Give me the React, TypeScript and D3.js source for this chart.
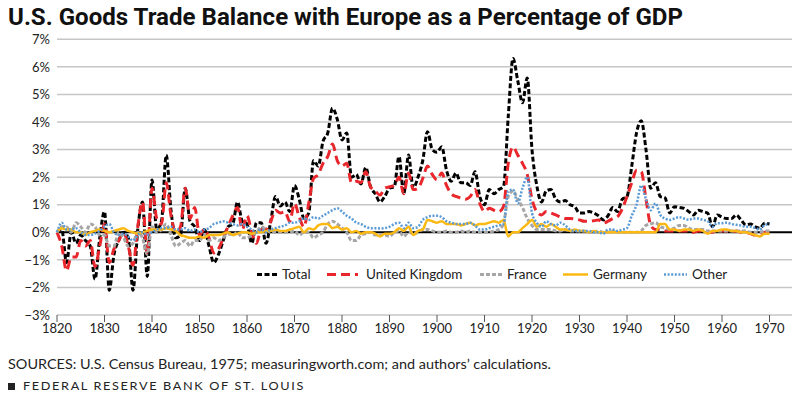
import React from 'react';
import * as d3 from 'd3';

const startYear = 1820;
const xTicks = [1820, 1830, 1840, 1850, 1860, 1870, 1880, 1890, 1900, 1910, 1920, 1930, 1940, 1950, 1960, 1970];
const yTicks = [-3, -2, -1, 0, 1, 2, 3, 4, 5, 6, 7];

const total = [
  0.0, 0.1, -1.1, 0.0, -0.4, -0.1, -0.3, -0.5, -1.7, -0.2,
  0.75, -2.1, -0.8, -0.3, 0.0, -0.2, -2.1, 0.1, 1.1, -1.6,
  1.9, 0.1, 0.4, 2.8, 0.8, -0.2, -0.1, 1.6, 0.4, 0.2,
  -0.3, 0.1, -0.5, -1.1, -0.8, -0.3, 0.2, 0.3, 1.1, 0.4,
  0.3, -0.4, 0.35, 0.35, -0.4, 0.4, 1.3, 0.95, 1.1, 0.75,
  1.7, 1.2, 0.5, 0.7, 2.6, 2.4, 3.3, 3.6, 4.5, 4.1,
  3.35, 3.6, 2.0, 2.1, 1.75, 2.35, 1.65, 1.4, 1.1, 1.3,
  1.6, 1.65, 2.75, 1.4, 2.8, 1.6, 2.0, 2.6, 3.65, 3.0,
  2.9, 3.1, 2.25, 1.85, 2.15, 1.8, 1.8, 1.7, 2.2, 1.3,
  1.0, 1.55, 1.4, 1.55, 1.65, 4.2, 6.3, 5.5, 4.7, 5.6,
  3.0, 1.7, 1.1, 1.5, 1.55, 1.2, 1.1, 1.15, 1.0, 0.93,
  0.7, 0.7, 0.75, 0.7, 0.6, 0.45, 0.6, 0.9, 0.75, 1.2,
  1.3, 2.4, 3.6, 4.05, 3.0, 1.6, 1.8, 1.3, 1.25, 0.7,
  0.93, 0.9, 0.87, 0.75, 0.63, 0.8, 0.75, 0.69, 0.2, 0.63,
  0.55, 0.5, 0.5, 0.63, 0.45, 0.27, 0.3, 0.2, 0.15, 0.33,
  0.3,
];

const unitedKingdom = [
  0.0, -0.5, -1.4, -0.9, -0.9, -0.3, -0.5, -0.3, -1.25, -0.5,
  0.3, -1.1, -0.6, -0.3, 0.0, -0.5, -1.2, 0.2, 1.1, -0.8,
  1.6, 0.5, 0.3, 1.8, 0.6, 0.0, 0.2, 1.6, 0.5, 0.9,
  -0.1, 0.1, -0.2, -0.75, -0.6, -0.2, 0.2, 0.6, 0.9, 0.1,
  0.6, 0.0, -0.4, 0.1, 0.1, 0.4, 0.8, 0.7, 0.75, 0.4,
  1.05, 0.55, 0.2, 1.05, 1.95, 2.1, 2.5, 2.75, 3.2, 2.6,
  2.4, 2.5, 1.8, 1.85, 1.8, 2.2, 1.65, 1.5, 1.35, 1.6,
  1.65, 1.7, 2.0, 1.4, 2.15, 1.55, 1.6, 1.95, 2.4, 2.1,
  1.9, 2.15, 1.7, 1.4, 1.3, 1.25, 1.2, 1.3, 1.55, 1.05,
  0.75, 0.87, 0.8, 0.75, 0.93, 2.5, 3.1, 2.8, 2.5, 2.1,
  1.2, 0.75, 0.63, 0.75, 0.7, 0.63, 0.55, 0.5, 0.5, 0.48,
  0.45, 0.4, 0.4, 0.42, 0.45, 0.33, 0.4, 0.5, 0.57, 0.85,
  1.3, 1.8, 2.25, 2.2, 1.2, 0.25, 0.1, 0.1, 0.05, 0.05,
  0.05, 0.05, 0.05, 0.05, 0.0, 0.05, 0.05, 0.0, 0.0, 0.05,
  0.05, 0.05, 0.0, 0.05, 0.0, 0.0, -0.05, -0.1, -0.05, 0.0,
  0.0,
];

const france = [
  0.0, 0.2, 0.2, 0.0, 0.35, 0.2, 0.0, 0.3, 0.2, -0.1,
  -0.1, -0.5, -0.5, 0.0, -0.2, -0.5, -0.4, 0.0, -0.2, -0.8,
  0.2, 0.0, 0.1, 0.3, -0.1, -0.5, -0.4, -0.3, -0.5, -0.3,
  -0.3, -0.1, -0.3, -0.2, -0.3, -0.2, -0.05, -0.1, 0.0, -0.2,
  -0.2, -0.1, 0.0, 0.2, 0.1, 0.0, 0.0, 0.0, 0.0, 0.0,
  0.05, -0.1, 0.0, 0.0, -0.2, -0.1, 0.0, 0.3, 0.4, 0.3,
  0.15, 0.0, -0.3, -0.3, -0.1, -0.05, 0.0, -0.1, -0.1, -0.1,
  -0.15, 0.0, 0.05, -0.15, 0.0, -0.05, 0.0, 0.1, 0.1, 0.05,
  0.0, 0.0, 0.05, 0.0, 0.0, 0.05, 0.0, 0.05, 0.0, 0.0,
  0.0, 0.0, 0.05, 0.1, 0.3, 1.3, 1.5, 1.2, 0.9, 0.5,
  0.25, 0.1, 0.1, 0.1, 0.1, 0.05, 0.05, 0.1, 0.05, 0.05,
  0.05, 0.05, 0.0, 0.0, 0.05, 0.0, 0.0, 0.05, 0.0, 0.0,
  0.0, 0.0, 0.0, 0.05, 0.25, 0.3, 0.35, 0.2, 0.15, 0.1,
  0.15, 0.25, 0.25, 0.15, 0.1, 0.1, 0.1, 0.05, 0.05, 0.05,
  0.05, 0.05, 0.05, 0.05, 0.05, 0.05, 0.0, 0.0, 0.0, 0.05,
  0.05,
];

const germany = [
  0.0, 0.15, 0.1, 0.1, 0.0, 0.0, -0.1, 0.0, 0.05, 0.1,
  0.05, 0.0, 0.05, 0.1, 0.15, 0.05, 0.0, -0.05, 0.0, 0.05,
  0.1, 0.1, 0.1, 0.15, 0.1, 0.05, -0.1, -0.15, -0.2, -0.2,
  -0.15, -0.2, -0.1, -0.1, -0.1, -0.05, 0.0, -0.1, -0.05, 0.0,
  0.0, -0.05, 0.0, 0.0, 0.05, 0.05, 0.1, 0.05, 0.05, 0.1,
  0.15, 0.2, 0.0, 0.15, 0.1, 0.25, 0.3, 0.3, 0.15, 0.2,
  0.1, 0.15, 0.0, 0.05, -0.05, 0.0, 0.0, -0.05, -0.15, -0.05,
  -0.05, 0.0, 0.15, 0.05, 0.2, -0.1, 0.05, 0.1, 0.45, 0.4,
  0.35, 0.4, 0.3, 0.3, 0.3, 0.25, 0.3, 0.35, 0.25, 0.3,
  0.3, 0.35, 0.4, 0.35, 0.45, -0.15, 0.0, 0.0, 0.15, 0.3,
  0.45, 0.2, 0.3, 0.2, 0.3, 0.2, 0.1, 0.1, 0.05, 0.1,
  0.05, 0.05, 0.0, 0.05, 0.0, 0.0, 0.0, 0.0, 0.0, 0.0,
  0.0, 0.0, 0.0, 0.0, 0.0, 0.0, 0.0, 0.3, 0.3, 0.1,
  0.1, 0.05, 0.1, 0.1, 0.05, 0.1, 0.05, -0.05, 0.05, 0.05,
  0.1, 0.1, 0.05, 0.05, 0.0, 0.0, -0.05, -0.1, -0.15, -0.05,
  -0.05,
];

const other = [
  0.0, 0.35, 0.1, 0.1, 0.15, 0.0, -0.1, -0.1, -0.05, 0.05,
  0.2, 0.3, 0.0, -0.1, -0.05, -0.15, -0.3, -0.1, 0.0, -0.1,
  0.0, 0.1, 0.15, 0.15, 0.2, 0.1, 0.1, 0.15, 0.05, 0.1,
  0.0, 0.1, 0.15, 0.3, 0.35, 0.4, 0.35, 0.3, 0.25, 0.3,
  0.2, 0.1, 0.0, 0.1, 0.0, 0.1, 0.15, 0.2, 0.25, 0.35,
  0.35, 0.4, 0.5, 0.45, 0.55, 0.5, 0.6, 0.7, 0.8, 0.87,
  0.75, 0.6, 0.5, 0.35, 0.3, 0.2, 0.15, 0.15, 0.14, 0.15,
  0.2, 0.3, 0.35, 0.15, 0.35, 0.15, 0.2, 0.45, 0.55, 0.6,
  0.6, 0.55, 0.4, 0.35, 0.3, 0.3, 0.3, 0.35, 0.25, 0.1,
  0.1, 0.15, 0.2, 0.25, 0.3, 1.5, 1.55, 1.05, 1.6, 2.0,
  0.7, 0.35, 0.2, 0.4, 0.3, 0.25, 0.35, 0.25, 0.1, 0.05,
  0.05, 0.05, 0.05, 0.0, 0.0, -0.05, 0.1, 0.1, 0.05, 0.1,
  0.15, 0.6, 1.0, 1.7, 1.2, 0.8, 1.05, 0.63, 0.5, 0.45,
  0.5, 0.55, 0.5, 0.45, 0.5, 0.5, 0.45, 0.4, 0.2, 0.33,
  0.33, 0.35, 0.3, 0.27, 0.25, 0.2, 0.2, 0.15, 0.1, 0.27,
  0.3,
];

const seriesNames = ['Total', 'United Kingdom', 'France', 'Germany', 'Other'];
const seriesValues = [total, unitedKingdom, france, germany, other];
const seriesStyles = [
  { color: '#000000', width: 3, dash: '5,2.5' },
  { color: '#e8262b', width: 3, dash: '9,5' },
  { color: '#a6a6a6', width: 3, dash: '4,2' },
  { color: '#fdb913', width: 2.5, dash: '' },
  { color: '#5b9bd5', width: 2.5, dash: '2,1.6' },
];
const legendPos = [
  { sx: 257, sw: 20, tx: 282 },
  { sx: 327, sw: 31, tx: 366 },
  { sx: 480, sw: 22, tx: 507 },
  { sx: 563, sw: 25, tx: 593 },
  { sx: 664, sw: 23, tx: 692 },
];

const FONT = 'Lato, "Open Sans", sans-serif';

export default function App() {
  const x = d3.scaleLinear().domain([1820, 1975]).range([57, 793.25]);
  const y = d3.scaleLinear().domain([-3, 7]).range([315, 39.3]);
  const line = d3
    .line<number>()
    .x((_, i) => x(startYear + i))
    .y((d) => y(d))
    .curve(d3.curveMonotoneX);

  return (
    <svg
      width={800}
      height={396}
      style={{ position: 'absolute', left: 0, top: 0, display: 'block', background: '#fff' }}
    >
      <rect x={0} y={0} width={800} height={396} fill="#fff" />
      <text
        x={8}
        y={25}
        fontFamily='Roboto, "Open Sans", sans-serif'
        fontWeight={700}
        fontSize={23}
        fill="#111"
        textLength={675}
        lengthAdjust="spacingAndGlyphs"
      >
        U.S. Goods Trade Balance with Europe as a Percentage of GDP
      </text>

      {yTicks.map((t) => (
        <g key={t}>
          {t !== 0 && (
            <line x1={x(1820)} x2={792} y1={y(t)} y2={y(t)} stroke="#c6c6c6" strokeWidth={1.5} />
          )}
          <text
            x={50}
            y={y(t)}
            dy="0.36em"
            textAnchor="end"
            fontFamily={FONT}
            fontSize={13}
            fill="#222"
          >
            {t < 0 ? `\u2212${Math.abs(t)}%` : `${t}%`}
          </text>
        </g>
      ))}

      {xTicks.map((t) => (
        <g key={t}>
          <line x1={x(t)} x2={x(t)} y1={y(-3)} y2={y(-3) + 7} stroke="#555" strokeWidth={1} />
          <text
            x={x(t)}
            y={333}
            textAnchor="middle"
            fontFamily={FONT}
            fontSize={13}
            fill="#222"
          >
            {t}
          </text>
        </g>
      ))}

      <line x1={x(1820)} x2={792} y1={y(0)} y2={y(0)} stroke="#000" strokeWidth={2} />

      {seriesValues.map((vals, i) => (
        <path
          key={seriesNames[i]}
          d={line(vals) || ''}
          fill="none"
          stroke={seriesStyles[i].color}
          strokeWidth={seriesStyles[i].width}
          strokeDasharray={seriesStyles[i].dash || undefined}
          strokeLinejoin="round"
        />
      ))}

      <rect x={245} y={262} width={495} height={24} fill="#fff" />
      {seriesNames.map((name, i) => (
        <g key={name}>
          <line
            x1={legendPos[i].sx}
            x2={legendPos[i].sx + legendPos[i].sw}
            y1={274.5}
            y2={274.5}
            stroke={seriesStyles[i].color}
            strokeWidth={seriesStyles[i].width}
            strokeDasharray={seriesStyles[i].dash || undefined}
          />
          <text
            x={legendPos[i].tx}
            y={274.5}
            dy="0.36em"
            fontFamily={FONT}
            fontSize={13.5}
            fill="#222"
          >
            {name}
          </text>
        </g>
      ))}

      <text
        x={8}
        y={369}
        fontFamily={FONT}
        fontSize={14}
        fill="#222"
        textLength={543}
        lengthAdjust="spacingAndGlyphs"
      >
        SOURCES: U.S. Census Bureau, 1975; measuringworth.com; and authors’ calculations.
      </text>
      <rect x={8} y={383} width={7} height={7} fill="#222" />
      <text
        x={23}
        y={390}
        fontFamily={FONT}
        fontSize={11.5}
        fill="#222"
        textLength={282}
        lengthAdjust="spacingAndGlyphs"
        letterSpacing={1.5}
      >
        FEDERAL RESERVE BANK OF ST. LOUIS
      </text>
    </svg>
  );
}
